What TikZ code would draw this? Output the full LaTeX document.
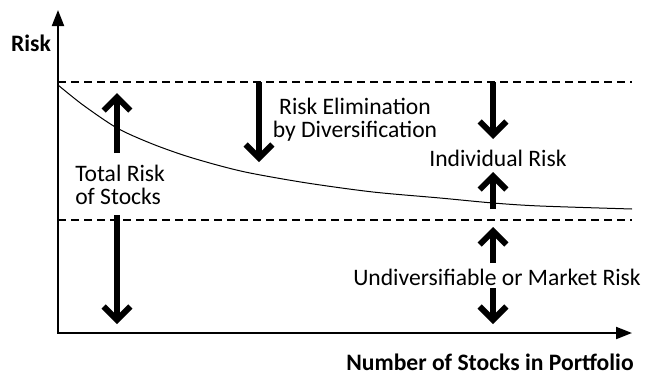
\documentclass[tikz,border=0pt]{standalone}
\usepackage{fontspec}
\setmainfont{Carlito}
\usetikzlibrary{arrows.meta}

\begin{document}
\begin{tikzpicture}[x=0.75pt, y=-0.75pt,
    axis/.style={line width=1.5pt, {Triangle[length=12pt, width=9pt]}-{Triangle[length=12pt, width=9pt]}},
    level/.style={line width=1.5pt, dash pattern=on 6pt off 3.75pt},
    bigarrow/.style={line width=4.5pt, -{Straight Barb[length=10pt, width=20pt]}},
    lbl/.style={font=\fontsize{17.7}{17.2}\selectfont, inner sep=0pt},
    boldlbl/.style={lbl, font=\fontsize{17.7}{17.2}\selectfont\bfseries},
  ]
    \useasboundingbox (0,0) rectangle (646,379);

    % Axes
    \coordinate (ytip) at (58,10);
    \coordinate (origin) at (58,333);
    \coordinate (xtip) at (632,333);
    \draw[axis] (ytip) -- (origin) -- (xtip);
    \node[boldlbl] (risklabel) at (31,43) {Risk};
    \node[boldlbl] (stocklabel) at (490,362) {Number of Stocks in Portfolio};

    % Total risk level and market risk level
    \draw[level] (58,82) -- (632,82);
    \draw[level] (58,220) -- (632,220);

    % Total risk curve
    \draw[line width=0.75pt] plot[smooth] coordinates {(58,85) (83,105) (117,128) (150,143)
      (183,155) (217,165) (250,173) (307,183) (373,192) (440,198) (493,203) (540,206) (632,209)};

    % Total risk of stocks
    \node[lbl, align=left, anchor=west] (total) at (75,185) {Total Risk\\of Stocks};
    \coordinate (total-up-a) at (117,153);
    \coordinate (total-up-b) at (117,93);
    \coordinate (total-dn-a) at (117,215);
    \coordinate (total-dn-b) at (117,324);
    \draw[bigarrow] (total-up-a) -- (total-up-b);
    \draw[bigarrow] (total-dn-a) -- (total-dn-b);

    % Risk elimination
    \node[lbl, align=center] (elim) at (355,120) {Risk Elimination\\by Diversification};
    \coordinate (elim-a) at (259,82);
    \coordinate (elim-b) at (259,162);
    \draw[bigarrow] (elim-a) -- (elim-b);

    % Individual risk
    \node[lbl] (indiv) at (498,158) {Individual Risk};
    \coordinate (indiv-dn-a) at (493,82);
    \coordinate (indiv-dn-b) at (493,139);
    \coordinate (indiv-up-a) at (493,209);
    \coordinate (indiv-up-b) at (493,172);
    \draw[bigarrow] (indiv-dn-a) -- (indiv-dn-b);
    \draw[bigarrow] (indiv-up-a) -- (indiv-up-b);

    % Market risk
    \node[lbl] (market) at (497,277) {Undiversifiable or Market Risk};
    \coordinate (market-up-a) at (493,263);
    \coordinate (market-up-b) at (493,227);
    \coordinate (market-dn-a) at (493,288);
    \coordinate (market-dn-b) at (493,324);
    \draw[bigarrow] (market-up-a) -- (market-up-b);
    \draw[bigarrow] (market-dn-a) -- (market-dn-b);

\end{tikzpicture}
\end{document}
